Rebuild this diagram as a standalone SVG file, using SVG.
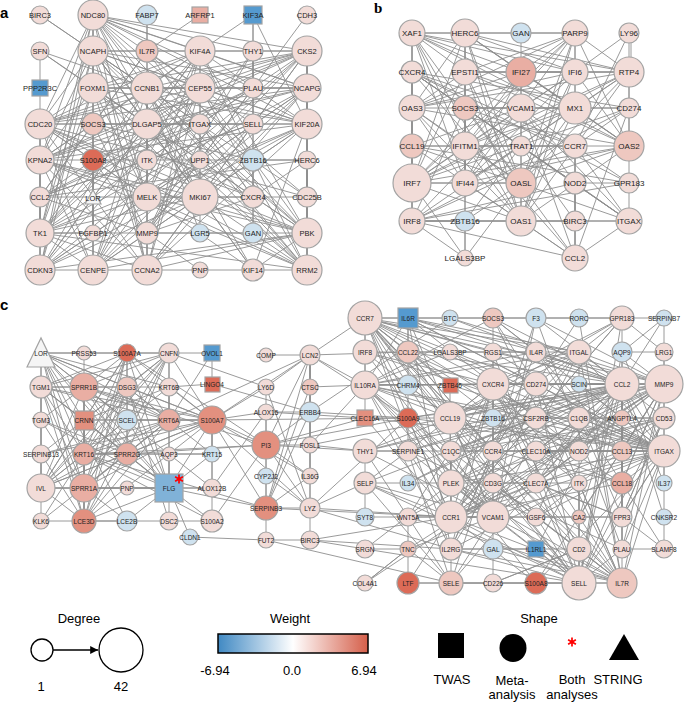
<svg xmlns="http://www.w3.org/2000/svg" width="685" height="702" viewBox="0 0 685 702">
<style>
.e{fill:none;stroke:#8e8e8e;stroke-width:0.9}
.nodes circle,.nodes rect,.nodes polygon{stroke:#a3a3a3;stroke-width:1.2}
.p0{fill:#f2dcd8}.p1{fill:#eec8c0}.p2{fill:#e9aea3}.p3{fill:#e3907f}.p4{fill:#dc6b57}
.b0{fill:#cfe2ef}.b1{fill:#559acf}.b2{fill:#80b2d8}.w{fill:#f5f5f5}
text{font-family:"Liberation Sans",Arial,sans-serif;fill:#222;text-anchor:middle;dominant-baseline:central}
.ta text{font-size:7.5px}.tb text{font-size:8px}.tc text{font-size:6.5px}
.lg text{font-size:13px;fill:#000}
.ast{fill:none;stroke:#f00;stroke-width:1.7}
.pl{font-weight:bold;font-size:15px;text-anchor:start;fill:#000}
</style>
<defs>
<marker id="ah" viewBox="0 0 10 10" refX="10" refY="5" markerWidth="6" markerHeight="6" orient="auto"><path d="M0 0L10 5L0 10z" fill="#000"/></marker>
<linearGradient id="wg" x1="0" x2="1" y1="0" y2="0"><stop offset="0" stop-color="#4089c3"/><stop offset="0.5" stop-color="#ffffff"/><stop offset="1" stop-color="#d55f4a"/></linearGradient>
<path id="ast" d="M0 -4.5V4.5M-3.9 -2.25L3.9 2.25M-3.9 2.25L3.9 -2.25"/>
</defs>
<rect width="685" height="702" fill="#fff"/>
<text class="pl" x="0" y="12">a</text>
<text class="pl" x="374" y="8" style="font-family:'Liberation Serif',serif">b</text>
<text class="pl" x="0" y="304">c</text>
<g id="connectors">
<path class="e" d="M93 15L93 51M93 15L200 51M93 15L307 51M93 15L93 88M93 15L147 88M93 15L200 88M93 15L307 88M93 15L40 124M93 15L147 124M93 15L307 124M93 15L40 160M93 15L147 197M93 15L200 197M93 15L40 233M93 15L307 233M93 15L40 270M93 15L93 270M93 15L147 270M93 15L307 270
M93 51L200 51M93 51L307 51M93 51L93 88M93 51L147 88M93 51L200 88M93 51L307 88M93 51L40 124M93 51L147 124M93 51L307 124M93 51L40 160M93 51L147 197M93 51L200 197M93 51L40 233M93 51L307 233M93 51L40 270M93 51L93 270M93 51L147 270M93 51L307 270
M200 51L307 51M200 51L93 88M200 51L147 88M200 51L200 88M200 51L307 88M200 51L40 124M200 51L147 124M200 51L307 124M200 51L40 160M200 51L147 197M200 51L200 197M200 51L40 233M200 51L307 233M200 51L40 270M200 51L93 270M200 51L147 270M200 51L307 270
M307 51L93 88M307 51L147 88M307 51L200 88M307 51L307 88M307 51L40 124M307 51L147 124M307 51L307 124M307 51L40 160M307 51L147 197M307 51L200 197M307 51L40 233M307 51L307 233M307 51L40 270M307 51L93 270M307 51L147 270M307 51L307 270
M93 88L147 88M93 88L200 88M93 88L307 88M93 88L40 124M93 88L147 124M93 88L307 124M93 88L40 160M93 88L147 197M93 88L200 197M93 88L40 233M93 88L307 233M93 88L40 270M93 88L93 270M93 88L147 270M93 88L307 270
M147 88L200 88M147 88L307 88M147 88L40 124M147 88L147 124M147 88L307 124M147 88L40 160M147 88L147 197M147 88L200 197M147 88L40 233M147 88L307 233M147 88L40 270M147 88L93 270M147 88L147 270M147 88L307 270
M200 88L307 88M200 88L40 124M200 88L147 124M200 88L307 124M200 88L40 160M200 88L147 197M200 88L200 197M200 88L40 233M200 88L307 233M200 88L40 270M200 88L93 270M200 88L147 270M200 88L307 270
M307 88L40 124M307 88L147 124M307 88L307 124M307 88L40 160M307 88L147 197M307 88L200 197M307 88L40 233M307 88L307 233M307 88L40 270M307 88L93 270M307 88L147 270M307 88L307 270
M40 124L147 124M40 124L307 124M40 124L40 160M40 124L147 197M40 124L200 197M40 124L40 233M40 124L307 233M40 124L40 270M40 124L93 270M40 124L147 270M40 124L307 270
M147 124L307 124M147 124L40 160M147 124L147 197M147 124L200 197M147 124L40 233M147 124L307 233M147 124L40 270M147 124L93 270M147 124L147 270M147 124L307 270
M307 124L40 160M307 124L147 197M307 124L200 197M307 124L40 233M307 124L307 233M307 124L40 270M307 124L93 270M307 124L147 270M307 124L307 270
M40 160L147 197M40 160L200 197M40 160L40 233M40 160L307 233M40 160L40 270M40 160L93 270M40 160L147 270M40 160L307 270
M147 197L200 197M147 197L40 233M147 197L307 233M147 197L40 270M147 197L93 270M147 197L147 270M147 197L307 270
M200 197L40 233M200 197L307 233M200 197L40 270M200 197L93 270M200 197L147 270M200 197L307 270
M40 233L307 233M40 233L40 270M40 233L93 270M40 233L147 270M40 233L307 270M307 233L40 270M307 233L93 270M307 233L147 270M307 233L307 270M40 270L307 270
M40 15L147 88M40 15L200 124M147 15L147 51M147 15L147 124M200 15L147 51M253 15L200 51M253 15L253 51M253 15L307 124M253 15L253 124M307 15L253 88
M40 51L40 88M40 51L147 88M40 51L147 124M40 51L93 88M40 88L40 124M93 15L253 51M93 15L253 88
M147 51L147 160M147 51L253 124M147 51L40 197M147 51L253 197M147 51L93 124
M253 51L253 88M253 51L200 124M253 51L253 124M253 51L253 197M253 51L147 233
M253 88L147 233M253 88L200 124M253 88L40 197M253 88L93 160M253 88L200 160
M93 124L40 197M93 124L253 197M93 124L147 233M93 124L93 160M93 124L200 124M93 124L253 160
M200 124L253 124M200 124L40 197M200 124L147 233M200 124L93 160M200 124L147 160M200 124L253 197
M253 124L253 197M253 124L147 160M253 124L40 197M253 124L147 233
M93 160L147 233M93 160L40 197M93 160L93 197M93 160L93 233M147 160L253 197M147 160L40 197
M200 160L147 233M200 160L40 160M200 160L307 160M253 160L253 233M253 160L307 160M253 160L147 51
M307 160L253 197M307 160L40 197M40 197L40 233M40 197L253 197M40 197L147 233M93 197L93 233
M147 233L253 197M147 233L253 233M200 233L200 197M200 233L147 88M253 233L253 197
M253 270L200 197M253 270L307 124M253 270L147 88M253 270L307 233M253 270L93 51M253 270L40 124
M307 197L307 51M307 197L307 233M307 197L147 88M307 197L200 197M307 197L40 124M307 197L93 15M200 270L147 233M93 233L40 233M93 233L93 197"/>
<path class="e" d="M412 33L465 33M412 33L575 33M412 33L465 72M412 33L521 72M412 33L575 72M412 33L629 72M412 33L412 108M412 33L575 108M412 33L465 146M412 33L629 146M412 33L412 183M412 33L465 183M412 33L521 183M412 33L521 221
M465 33L575 33M465 33L465 72M465 33L521 72M465 33L575 72M465 33L629 72M465 33L412 108M465 33L575 108M465 33L465 146M465 33L629 146M465 33L412 183M465 33L465 183M465 33L521 183M465 33L521 221
M575 33L465 72M575 33L521 72M575 33L575 72M575 33L629 72M575 33L412 108M575 33L575 108M575 33L465 146M575 33L629 146M575 33L412 183M575 33L465 183M575 33L521 183M575 33L521 221
M465 72L521 72M465 72L575 72M465 72L629 72M465 72L412 108M465 72L575 108M465 72L465 146M465 72L629 146M465 72L412 183M465 72L465 183M465 72L521 183M465 72L521 221
M521 72L575 72M521 72L629 72M521 72L412 108M521 72L575 108M521 72L465 146M521 72L629 146M521 72L412 183M521 72L465 183M521 72L521 183M521 72L521 221
M575 72L629 72M575 72L412 108M575 72L575 108M575 72L465 146M575 72L629 146M575 72L412 183M575 72L465 183M575 72L521 183M575 72L521 221
M629 72L412 108M629 72L575 108M629 72L465 146M629 72L629 146M629 72L412 183M629 72L465 183M629 72L521 183M629 72L521 221
M412 108L575 108M412 108L465 146M412 108L629 146M412 108L412 183M412 108L465 183M412 108L521 183M412 108L521 221
M575 108L465 146M575 108L629 146M575 108L412 183M575 108L465 183M575 108L521 183M575 108L521 221
M465 146L629 146M465 146L412 183M465 146L465 183M465 146L521 183M465 146L521 221
M629 146L412 183M629 146L465 183M629 146L521 183M629 146L521 221M412 183L465 183M412 183L521 183M412 183L521 221M465 183L521 183M465 183L521 221M521 183L521 221
M629 33L629 72M631 33L631 72M629 33L575 72M629 33L575 146M412 33L412 72M412 72L412 108M521 33L521 72
M412 72L412 146M412 72L575 146M412 72L465 108M412 72L521 108M412 72L575 258M412 72L629 221M412 72L412 221M412 72L521 146M412 72L629 183M412 72L575 183M412 72L629 108
M465 108L575 258M465 108L521 108M465 108L629 108M465 108L412 221M465 108L575 146M465 108L575 183M465 108L465 221M465 108L629 221
M521 108L575 258M521 108L629 221M521 108L412 146M521 108L629 108M521 108L575 146M521 108L412 221M521 108L575 183
M629 108L629 72M629 108L629 146M629 108L412 183M629 108L575 258M629 108L412 221M629 108L575 146
M412 146L575 146M412 146L412 183M412 146L629 183M412 146L575 258M412 146L629 221M412 146L521 146M412 146L412 108M412 146L412 221
M521 146L575 146M521 146L629 221M521 146L412 221M521 146L465 221M521 146L575 221
M575 146L629 183M575 146L412 221M575 146L629 221M575 146L575 183M575 146L575 221M575 146L575 258
M575 183L575 221M575 183L575 258M575 183L412 221M575 183L629 221M575 183L629 183M629 183L629 146M629 183L629 221M629 183L412 221
M412 221L412 183M412 221L465 221M412 221L521 221M412 221L465 258M412 221L575 258M412 221L629 221M412 221L575 221
M465 221L465 258M465 221L521 183M575 221L575 258M575 221L521 221M575 221L629 221M629 221L575 258M521 221L575 258M465 258L521 183M465 258L465 146M465 258L412 183"/>
<path class="e" d="M41 353L41 387M41 353L84 387M41 353L84 420M41 353L84 454M41 353L41 488M41 353L84 488M41 353L84 521M41 353L127 454M41 353L127 353M41 353L127 387M41 353L169 353M41 353L169 420M41 353L169 488M41 353L212 420
M41 387L84 387M41 387L84 420M41 387L84 454M41 387L41 488M41 387L84 488M41 387L84 521M41 387L127 454M41 387L127 353M41 387L127 387M41 387L169 353M41 387L169 420M41 387L169 488M41 387L212 420
M84 387L84 420M84 387L84 454M84 387L41 488M84 387L84 488M84 387L84 521M84 387L127 454M84 387L127 353M84 387L127 387M84 387L169 353M84 387L169 420M84 387L169 488M84 387L212 420
M84 420L84 454M84 420L41 488M84 420L84 488M84 420L84 521M84 420L127 454M84 420L127 353M84 420L127 387M84 420L169 353M84 420L169 420M84 420L169 488M84 420L212 420
M84 454L41 488M84 454L84 488M84 454L84 521M84 454L127 454M84 454L127 353M84 454L127 387M84 454L169 353M84 454L169 420M84 454L169 488M84 454L212 420
M41 488L84 488M41 488L84 521M41 488L127 454M41 488L127 353M41 488L127 387M41 488L169 353M41 488L169 420M41 488L169 488M41 488L212 420
M84 488L84 521M84 488L127 454M84 488L127 353M84 488L127 387M84 488L169 353M84 488L169 420M84 488L169 488M84 488L212 420
M84 521L127 454M84 521L127 353M84 521L127 387M84 521L169 353M84 521L169 420M84 521L169 488M84 521L212 420
M127 454L127 353M127 454L127 387M127 454L169 353M127 454L169 420M127 454L169 488M127 454L212 420
M127 353L127 387M127 353L169 353M127 353L169 420M127 353L169 488M127 353L212 420M127 387L169 353M127 387L169 420M127 387L169 488M127 387L212 420
M169 353L169 420M169 353L169 488M169 353L212 420M169 420L169 488M169 420L212 420M169 488L212 420
M84 353L84 387M212 353L169 353M212 353L212 384M212 353L169 420M212 384L310 412M212 384L169 387
M41 420L41 387M41 420L41 454M41 420L84 387M41 420L84 488M41 420L127 454M41 420L169 488
M41 454L41 488M41 454L84 420M41 454L169 420M41 454L212 420M41 454L84 521M41 521L41 488M41 521L84 521M41 521L84 454M41 521L169 420
M127 420L41 353M127 420L84 488M127 420L41 488M127 420L169 488M127 420L84 387M127 420L212 420
M169 387L169 420M169 387L84 454M169 387L127 387M169 387L212 420M169 387L41 353M169 387L84 420
M169 454L169 488M169 454L212 454M169 454L84 454M212 454L84 454M212 454L212 420M212 454L169 488M212 454L127 387
M127 488L84 488M127 488L169 488M212 488L169 488M212 488L212 420M212 488L41 488M212 488L84 387M212 488L266 412
M127 521L84 521M127 521L169 488M127 521L84 488M127 521L41 353M169 521L169 488M169 521L127 387M169 521L84 521M169 521L212 521
M212 521L212 420M212 521L169 488M212 521L84 454M212 521L266 445M190 537L169 488M190 537L266 540
M212 420L266 445M212 420L310 355M212 420L266 508M212 420L266 387M212 420L310 508M212 420L408 418M212 420L266 412M212 420L310 476
M84 454L266 445M84 454L266 508M84 387L266 445M169 420L310 355M127 353L266 445M169 488L266 508M169 353L266 387M127 454L266 445
M266 355L310 355M310 355L310 387M310 355L266 387M310 355L310 412M310 355L266 445M310 355L310 445M310 355L310 508M310 355L408 352M310 355L365 385M310 355L365 318M310 355L408 418M310 355L310 476M310 355L266 508
M266 387L266 445M266 387L310 508M310 387L310 412M310 387L365 385M310 387L266 508M266 412L310 412M266 412L266 445M266 412L365 418
M310 412L266 445M310 412L310 445M310 412L408 418M310 412L450 318M310 412L266 508
M266 445L266 508M266 445L310 445M266 445L310 508M266 445L266 476M266 445L408 418M266 445L365 451M266 445L310 476M266 445L365 418
M310 445L310 476M310 445L365 451M310 445L622 384M310 445L365 385M266 476L266 508M266 476L310 508M310 476L310 508M310 476L266 508
M266 508L310 508M266 508L266 540M266 508L451 517M310 508L310 540M310 508L451 517M310 508L365 483M310 508L451 549M310 508L408 418
M266 540L451 583M266 540L310 540M310 540L451 549M310 540L451 517M310 540L365 549"/>
<path class="e" d="M365 318L365 385M365 318L450 418M365 318L493 384M365 318L622 384M365 318L664 384M365 318L664 451M365 318L451 517M365 318L493 517M365 318L579 583M365 318L622 583M365 318L451 483M365 318L579 352M365 318L536 384
M365 385L450 418M365 385L493 384M365 385L622 384M365 385L664 384M365 385L664 451M365 385L451 517M365 385L493 517M365 385L579 583M365 385L622 583M365 385L451 483M365 385L579 352M365 385L536 384
M450 418L493 384M450 418L622 384M450 418L664 384M450 418L664 451M450 418L451 517M450 418L493 517M450 418L579 583M450 418L622 583M450 418L451 483M450 418L579 352M450 418L536 384
M493 384L622 384M493 384L664 384M493 384L664 451M493 384L451 517M493 384L493 517M493 384L579 583M493 384L622 583M493 384L451 483M493 384L579 352M493 384L536 384
M622 384L664 384M622 384L664 451M622 384L451 517M622 384L493 517M622 384L579 583M622 384L622 583M622 384L451 483M622 384L579 352M622 384L536 384
M664 384L664 451M664 384L451 517M664 384L493 517M664 384L579 583M664 384L622 583M664 384L451 483M664 384L579 352M664 384L536 384
M664 451L451 517M664 451L493 517M664 451L579 583M664 451L622 583M664 451L451 483M664 451L579 352M664 451L536 384
M451 517L493 517M451 517L579 583M451 517L622 583M451 517L451 483M451 517L579 352M451 517L536 384
M493 517L579 583M493 517L622 583M493 517L451 483M493 517L579 352M493 517L536 384M579 583L622 583M579 583L451 483M579 583L579 352M579 583L536 384
M622 583L451 483M622 583L579 352M622 583L536 384M451 483L579 352M451 483L536 384M579 352L536 384
M408 318L365 318M408 318L408 352M408 318L493 318M408 318L493 384M408 318L622 384M408 318L365 385M408 318L451 549M408 318L493 517M408 318L664 384M408 318L664 451M408 318L536 384M408 318L579 352
M450 318L664 384M450 318L622 384M493 318L536 318M493 318L493 384M493 318L622 384M493 318L536 352M493 318L365 385M493 318L536 384M493 318L622 583M493 318L664 451
M536 318L579 318M536 318L622 384M536 318L664 384M536 318L493 517M536 318L451 583M536 318L622 549M579 318L622 318M579 318L493 451M579 318L622 583
M622 318L664 318M622 318L365 318M622 318L450 418M622 318L622 352M622 318L579 352M622 318L493 384M622 318L579 583M622 318L451 517M622 318L664 352M622 318L536 418
M664 318L664 352M664 318L622 352M664 318L622 384
M365 352L365 318M365 352L365 385M365 352L408 352M365 352L493 384M365 352L450 418M365 352L664 451M365 352L493 517
M408 352L450 352M408 352L493 451M408 352L450 418M408 352L536 352M408 352L622 384M408 352L622 451M408 352L622 483M408 352L365 318
M450 352L493 352M450 352L664 451M450 352L365 385M493 352L536 352M493 352L365 318M493 352L493 384M493 352L622 384M493 352L579 583M493 352L664 451
M536 352L579 352M536 352L451 549M536 352L622 451M536 352L622 483M536 352L365 385M536 352L622 384
M622 352L664 352M622 352L664 384M622 352L622 384M622 352L664 451M622 352L622 517M622 352L579 583M664 352L664 384M664 352L664 418
M408 385L450 418M408 385L493 384M450 385L365 318M450 385L664 451M450 385L450 418M579 384L622 384M579 384L664 451
M365 418L365 385M365 418L450 418M365 418L664 451M365 418L451 517
M408 418L664 384M408 418L664 451M408 418L536 583M408 418L622 384M408 418L451 517M408 418L579 583
M493 418L493 384M493 418L622 583M493 418L493 549
M536 418L365 385M536 418L451 517M536 418L664 451M536 418L664 418M536 418L493 384M536 418L622 384M536 418L579 418M536 418L451 451
M579 418L451 451M579 418L664 418M579 418L664 451M579 418L622 384M579 418L664 384M579 418L622 517M579 418L451 517M579 418L536 517M579 418L536 483M579 418L536 451
M622 418L664 384M622 418L622 384M622 418L493 517M622 418L622 549
M664 418L664 451M664 418L451 517M664 418L622 384M664 418L451 483M664 418L579 583M664 418L622 517
M365 451L450 418M365 451L493 517M365 451L664 451M365 451L365 483M365 451L664 384M365 451L622 384M365 451L451 583
M408 451L622 384M408 451L664 384M408 451L493 517M408 451L451 583M408 451L365 483M408 451L622 549M408 451L493 384M408 451L365 451M408 451L408 318
M451 451L451 517M451 451L664 418M451 451L451 483M451 451L664 451M451 451L536 418M451 451L622 517
M493 451L365 318M493 451L408 352M493 451L450 418M493 451L622 384M493 451L622 451M493 451L622 483M493 451L493 384M493 451L451 549M493 451L493 483M493 451L579 583
M536 451L622 483M536 451L664 418M536 451L536 483M536 451L664 451M536 451L622 451
M579 451L622 384M579 451L664 451M579 451L365 318M579 451L365 385M579 451L493 384M579 451L536 483
M622 451L622 384M622 451L622 483M622 451L451 517M622 451L664 384
M365 483L451 583M365 483L579 583M365 483L451 483M365 483L451 517M365 483L493 517M365 483L622 384M408 483L536 418M408 483L622 384
M493 483L579 549M493 483L365 318M493 483L579 483M493 483L451 549M493 483L579 583M493 483L622 583M493 483L493 384
M536 483L664 451M536 483L451 517M536 483L451 483M536 483L622 384M536 483L622 517
M579 483L579 549M579 483L622 583M579 483L579 583M579 483L365 318M579 483L493 384M579 483L451 549
M622 483L622 384M622 483L451 517M622 483L664 384M622 483L664 451M664 483L664 451M664 483L622 384
M365 517L451 517M365 517L365 483M408 517L664 384M408 517L493 517M408 517L493 384M408 517L408 549M408 517L622 583
M536 517L451 517M536 517L664 451M536 517L664 418M536 517L451 483M536 517L622 517M579 517L622 384M579 517L664 384
M622 517L451 517M622 517L664 451M622 517L622 384M622 517L664 549M622 517L664 418M664 517L622 384
M365 549L451 483M365 549L579 583M365 549L408 549M408 549L408 583M408 549L664 384M408 549L493 517M408 549L365 583M408 549L451 583
M451 549L579 549M451 549L622 583M451 549L365 385M451 549L365 318M451 549L493 384M451 549L579 583M451 549L451 583
M493 549L493 583M493 549L622 583M536 549L451 549M536 549L622 384
M579 549L622 583M579 549L579 583M579 549L365 318M579 549L493 583M579 549L493 384
M622 549L664 549M622 549L664 384M622 549L664 451M622 549L622 384M622 549L579 583M664 549L664 451M664 549L622 483
M365 583L408 549M365 583L664 384M408 583L451 583M408 583L536 583M408 583L451 517
M451 583L622 583M451 583L493 517M451 583L622 384M451 583L579 583M493 583L579 549
M536 583L664 451M536 583L664 384M536 583L451 517M536 583L579 583"/>
</g>
<g class="nodes ta">
<g id="a-BIRC3"><circle cx="40" cy="15" r="9" class="p0"/><text x="40" y="15">BIRC3</text></g>
<g id="a-NDC80"><circle cx="93" cy="15" r="15" class="p0"/><text x="93" y="15">NDC80</text></g>
<g id="a-FABP7"><circle cx="147" cy="15" r="10" class="b0"/><text x="147" y="15">FABP7</text></g>
<g id="a-ARFRP1"><rect x="192" y="7" width="16" height="16" class="p2"/><text x="200" y="15">ARFRP1</text></g>
<g id="a-KIF3A"><rect x="244" y="6" width="18" height="18" class="b1"/><text x="253" y="15">KIF3A</text></g>
<g id="a-CDH3"><circle cx="307" cy="15" r="9" class="p0"/><text x="307" y="15">CDH3</text></g>
<g id="a-SFN"><circle cx="40" cy="51" r="9" class="p0"/><text x="40" y="51">SFN</text></g>
<g id="a-NCAPH"><circle cx="93" cy="51" r="15" class="p0"/><text x="93" y="51">NCAPH</text></g>
<g id="a-IL7R"><circle cx="147" cy="51" r="11" class="p1"/><text x="147" y="51">IL7R</text></g>
<g id="a-KIF4A"><circle cx="200" cy="51" r="15" class="p0"/><text x="200" y="51">KIF4A</text></g>
<g id="a-THY1"><circle cx="253" cy="51" r="10" class="p0"/><text x="253" y="51">THY1</text></g>
<g id="a-CKS2"><circle cx="307" cy="51" r="15" class="p0"/><text x="307" y="51">CKS2</text></g>
<g id="a-PPP2R3C"><rect x="32" y="80" width="16" height="16" class="b1"/><text x="40" y="88">PPP2R3C</text></g>
<g id="a-FOXM1"><circle cx="93" cy="88" r="15" class="p0"/><text x="93" y="88">FOXM1</text></g>
<g id="a-CCNB1"><circle cx="147" cy="88" r="16" class="p0"/><text x="147" y="88">CCNB1</text></g>
<g id="a-CEP55"><circle cx="200" cy="88" r="15" class="p0"/><text x="200" y="88">CEP55</text></g>
<g id="a-PLAU"><circle cx="253" cy="88" r="10" class="p0"/><text x="253" y="88">PLAU</text></g>
<g id="a-NCAPG"><circle cx="307" cy="88" r="14" class="p0"/><text x="307" y="88">NCAPG</text></g>
<g id="a-CDC20"><circle cx="40" cy="124" r="15" class="p0"/><text x="40" y="124">CDC20</text></g>
<g id="a-SOCS3"><circle cx="93" cy="124" r="11" class="p1"/><text x="93" y="124">SOCS3</text></g>
<g id="a-DLGAP5"><circle cx="147" cy="124" r="15" class="p0"/><text x="147" y="124">DLGAP5</text></g>
<g id="a-ITGAX"><circle cx="200" cy="124" r="10" class="p0"/><text x="200" y="124">ITGAX</text></g>
<g id="a-SELL"><circle cx="253" cy="124" r="10" class="p0"/><text x="253" y="124">SELL</text></g>
<g id="a-KIF20A"><circle cx="307" cy="124" r="15" class="p0"/><text x="307" y="124">KIF20A</text></g>
<g id="a-KPNA2"><circle cx="40" cy="160" r="14" class="p0"/><text x="40" y="160">KPNA2</text></g>
<g id="a-S100A8"><circle cx="93" cy="160" r="11" class="p4"/><text x="93" y="160">S100A8</text></g>
<g id="a-ITK"><circle cx="147" cy="160" r="10" class="p0"/><text x="147" y="160">ITK</text></g>
<g id="a-UPP1"><circle cx="200" cy="160" r="9" class="p0"/><text x="200" y="160">UPP1</text></g>
<g id="a-ZBTB16"><circle cx="253" cy="160" r="11" class="b0"/><text x="253" y="160">ZBTB16</text></g>
<g id="a-HERC6"><circle cx="307" cy="160" r="9" class="p0"/><text x="307" y="160">HERC6</text></g>
<g id="a-CCL2"><circle cx="40" cy="197" r="10" class="p0"/><text x="40" y="197">CCL2</text></g>
<g id="a-LOR"><polygon points="85,204 93,190 101,204" class="w"/><text x="93" y="198">LOR</text></g>
<g id="a-MELK"><circle cx="147" cy="197" r="14" class="p0"/><text x="147" y="197">MELK</text></g>
<g id="a-MKI67"><circle cx="200" cy="197" r="18" class="p0"/><text x="200" y="197">MKI67</text></g>
<g id="a-CXCR4"><circle cx="253" cy="197" r="11" class="p0"/><text x="253" y="197">CXCR4</text></g>
<g id="a-CDC25B"><circle cx="307" cy="197" r="10" class="p0"/><text x="307" y="197">CDC25B</text></g>
<g id="a-TK1"><circle cx="40" cy="233" r="14" class="p0"/><text x="40" y="233">TK1</text></g>
<g id="a-FGFBP1"><circle cx="93" cy="233" r="8" class="p0"/><text x="93" y="233">FGFBP1</text></g>
<g id="a-MMP9"><circle cx="147" cy="233" r="11" class="p0"/><text x="147" y="233">MMP9</text></g>
<g id="a-LGR5"><circle cx="200" cy="233" r="9" class="b0"/><text x="200" y="233">LGR5</text></g>
<g id="a-GAN"><circle cx="253" cy="233" r="10" class="b0"/><text x="253" y="233">GAN</text></g>
<g id="a-PBK"><circle cx="307" cy="233" r="15" class="p0"/><text x="307" y="233">PBK</text></g>
<g id="a-CDKN3"><circle cx="40" cy="270" r="15" class="p0"/><text x="40" y="270">CDKN3</text></g>
<g id="a-CENPE"><circle cx="93" cy="270" r="15" class="p0"/><text x="93" y="270">CENPE</text></g>
<g id="a-CCNA2"><circle cx="147" cy="270" r="15" class="p0"/><text x="147" y="270">CCNA2</text></g>
<g id="a-PNP"><circle cx="200" cy="270" r="8" class="p0"/><text x="200" y="270">PNP</text></g>
<g id="a-KIF14"><circle cx="253" cy="270" r="11" class="p0"/><text x="253" y="270">KIF14</text></g>
<g id="a-RRM2"><circle cx="307" cy="270" r="15" class="p0"/><text x="307" y="270">RRM2</text></g>
</g>
<g class="nodes tb">
<g id="b-XAF1"><circle cx="412" cy="33" r="13" class="p0"/><text x="412" y="33">XAF1</text></g>
<g id="b-HERC6"><circle cx="465" cy="33" r="14" class="p0"/><text x="465" y="33">HERC6</text></g>
<g id="b-GAN"><circle cx="521" cy="33" r="10" class="b0"/><text x="521" y="33">GAN</text></g>
<g id="b-PARP9"><circle cx="575" cy="33" r="13" class="p0"/><text x="575" y="33">PARP9</text></g>
<g id="b-LY96"><circle cx="629" cy="33" r="10" class="p0"/><text x="629" y="33">LY96</text></g>
<g id="b-CXCR4"><circle cx="412" cy="72" r="11" class="p0"/><text x="412" y="72">CXCR4</text></g>
<g id="b-EPSTI1"><circle cx="465" cy="72" r="13" class="p0"/><text x="465" y="72">EPSTI1</text></g>
<g id="b-IFI27"><circle cx="521" cy="72" r="15" class="p2"/><text x="521" y="72">IFI27</text></g>
<g id="b-IFI6"><circle cx="575" cy="72" r="13" class="p0"/><text x="575" y="72">IFI6</text></g>
<g id="b-RTP4"><circle cx="629" cy="72" r="15" class="p0"/><text x="629" y="72">RTP4</text></g>
<g id="b-OAS3"><circle cx="412" cy="108" r="13" class="p0"/><text x="412" y="108">OAS3</text></g>
<g id="b-SOCS3"><circle cx="465" cy="108" r="12" class="p1"/><text x="465" y="108">SOCS3</text></g>
<g id="b-VCAM1"><circle cx="521" cy="108" r="14" class="p0"/><text x="521" y="108">VCAM1</text></g>
<g id="b-MX1"><circle cx="575" cy="108" r="16" class="p0"/><text x="575" y="108">MX1</text></g>
<g id="b-CD274"><circle cx="629" cy="108" r="10" class="p0"/><text x="629" y="108">CD274</text></g>
<g id="b-CCL19"><circle cx="412" cy="146" r="12" class="p1"/><text x="412" y="146">CCL19</text></g>
<g id="b-IFITM1"><circle cx="465" cy="146" r="14" class="p0"/><text x="465" y="146">IFITM1</text></g>
<g id="b-TRAT1"><circle cx="521" cy="146" r="10" class="p0"/><text x="521" y="146">TRAT1</text></g>
<g id="b-CCR7"><circle cx="575" cy="146" r="12" class="p0"/><text x="575" y="146">CCR7</text></g>
<g id="b-OAS2"><circle cx="629" cy="146" r="15" class="p1"/><text x="629" y="146">OAS2</text></g>
<g id="b-IRF7"><circle cx="412" cy="183" r="19" class="p0"/><text x="412" y="183">IRF7</text></g>
<g id="b-IFI44"><circle cx="465" cy="183" r="13" class="p0"/><text x="465" y="183">IFI44</text></g>
<g id="b-OASL"><circle cx="521" cy="183" r="15" class="p1"/><text x="521" y="183">OASL</text></g>
<g id="b-NOD2"><circle cx="575" cy="183" r="11" class="p0"/><text x="575" y="183">NOD2</text></g>
<g id="b-GPR183"><circle cx="629" cy="183" r="10" class="p0"/><text x="629" y="183">GPR183</text></g>
<g id="b-IRF8"><circle cx="412" cy="221" r="13" class="p0"/><text x="412" y="221">IRF8</text></g>
<g id="b-ZBTB16"><circle cx="465" cy="221" r="10" class="b0"/><text x="465" y="221">ZBTB16</text></g>
<g id="b-OAS1"><circle cx="521" cy="221" r="15" class="p0"/><text x="521" y="221">OAS1</text></g>
<g id="b-BIRC3"><circle cx="575" cy="221" r="10" class="p0"/><text x="575" y="221">BIRC3</text></g>
<g id="b-ITGAX"><circle cx="629" cy="221" r="13" class="p0"/><text x="629" y="221">ITGAX</text></g>
<g id="b-LGALS3BP"><circle cx="465" cy="258" r="8" class="p0"/><text x="465" y="258">LGALS3BP</text></g>
<g id="b-CCL2"><circle cx="575" cy="258" r="13" class="p0"/><text x="575" y="258">CCL2</text></g>
</g>
<g class="nodes tc">
<g id="c-LOR"><polygon points="27,367 41,338 55,367" class="w"/><text x="41" y="353">LOR</text></g>
<g id="c-PRSS53"><circle cx="84" cy="353" r="7" class="p0"/><text x="84" y="353">PRSS53</text></g>
<g id="c-S100A7A"><circle cx="127" cy="353" r="9" class="p4"/><text x="127" y="353">S100A7A</text></g>
<g id="c-CNFN"><circle cx="169" cy="353" r="10" class="p0"/><text x="169" y="353">CNFN</text></g>
<g id="c-OVOL1"><rect x="204" y="345" width="16" height="16" class="b1"/><text x="212" y="353">OVOL1</text></g>
<g id="c-TGM1"><circle cx="41" cy="387" r="11" class="p0"/><text x="41" y="387">TGM1</text></g>
<g id="c-SPRR1B"><circle cx="84" cy="387" r="14" class="p2"/><text x="84" y="387">SPRR1B</text></g>
<g id="c-DSG3"><circle cx="127" cy="387" r="10" class="p1"/><text x="127" y="387">DSG3</text></g>
<g id="c-KRT6B"><circle cx="169" cy="387" r="9" class="p0"/><text x="169" y="387">KRT6B</text></g>
<g id="c-LINGO4"><rect x="205" y="377" width="15" height="15" class="p4"/><text x="212" y="384">LINGO4</text></g>
<g id="c-TGM3"><circle cx="41" cy="420" r="8" class="p0"/><text x="41" y="420">TGM3</text></g>
<g id="c-CRNN"><rect x="75" y="411" width="19" height="19" class="p3"/><text x="84" y="420">CRNN</text></g>
<g id="c-SCEL"><circle cx="127" cy="420" r="10" class="b0"/><text x="127" y="420">SCEL</text></g>
<g id="c-KRT6A"><circle cx="169" cy="420" r="11" class="p2"/><text x="169" y="420">KRT6A</text></g>
<g id="c-S100A7"><circle cx="212" cy="420" r="14" class="p3"/><text x="212" y="420">S100A7</text></g>
<g id="c-SERPINB13"><circle cx="41" cy="454" r="9" class="p0"/><text x="41" y="454">SERPINB13</text></g>
<g id="c-KRT16"><circle cx="84" cy="454" r="11" class="p2"/><text x="84" y="454">KRT16</text></g>
<g id="c-SPRR2G"><circle cx="127" cy="454" r="11" class="p2"/><text x="127" y="454">SPRR2G</text></g>
<g id="c-AQP3"><circle cx="169" cy="454" r="7" class="p0"/><text x="169" y="454">AQP3</text></g>
<g id="c-KRT15"><circle cx="212" cy="454" r="8" class="b0"/><text x="212" y="454">KRT15</text></g>
<g id="c-IVL"><circle cx="41" cy="488" r="14" class="p0"/><text x="41" y="488">IVL</text></g>
<g id="c-SPRR1A"><circle cx="84" cy="488" r="14" class="p2"/><text x="84" y="488">SPRR1A</text></g>
<g id="c-PNP"><circle cx="127" cy="488" r="7" class="p0"/><text x="127" y="488">PNP</text></g>
<g id="c-FLG"><rect x="155" y="474" width="28" height="28" class="b2"/><text x="169" y="488">FLG</text><use href="#ast" x="179" y="479" class="ast"/></g>
<g id="c-ALOX12B"><circle cx="212" cy="488" r="9" class="p0"/><text x="212" y="488">ALOX12B</text></g>
<g id="c-KLK6"><circle cx="41" cy="521" r="8" class="p0"/><text x="41" y="521">KLK6</text></g>
<g id="c-LCE3D"><circle cx="84" cy="521" r="12" class="p3"/><text x="84" y="521">LCE3D</text></g>
<g id="c-LCE2B"><circle cx="127" cy="521" r="10" class="b0"/><text x="127" y="521">LCE2B</text></g>
<g id="c-DSC2"><circle cx="169" cy="521" r="9" class="p0"/><text x="169" y="521">DSC2</text></g>
<g id="c-S100A2"><circle cx="212" cy="521" r="11" class="p0"/><text x="212" y="521">S100A2</text></g>
<g id="c-CLDN1"><circle cx="190" cy="537" r="8" class="b0"/><text x="190" y="537">CLDN1</text></g>
<g id="c-COMP"><circle cx="266" cy="355" r="7" class="p0"/><text x="266" y="355">COMP</text></g>
<g id="c-LCN2"><circle cx="310" cy="355" r="10" class="p0"/><text x="310" y="355">LCN2</text></g>
<g id="c-LY6D"><circle cx="266" cy="387" r="8" class="p0"/><text x="266" y="387">LY6D</text></g>
<g id="c-CTSC"><circle cx="310" cy="387" r="8" class="p1"/><text x="310" y="387">CTSC</text></g>
<g id="c-ALOX15"><circle cx="266" cy="412" r="8" class="p0"/><text x="266" y="412">ALOX15</text></g>
<g id="c-ERBB4"><circle cx="310" cy="412" r="10" class="b0"/><text x="310" y="412">ERBB4</text></g>
<g id="c-PI3"><circle cx="266" cy="445" r="14" class="p3"/><text x="266" y="445">PI3</text></g>
<g id="c-FOSL1"><circle cx="310" cy="445" r="8" class="p0"/><text x="310" y="445">FOSL1</text></g>
<g id="c-CYP2J2"><circle cx="266" cy="476" r="8" class="b0"/><text x="266" y="476">CYP2J2</text></g>
<g id="c-IL36G"><circle cx="310" cy="476" r="8" class="p0"/><text x="310" y="476">IL36G</text></g>
<g id="c-SERPINB3"><circle cx="266" cy="508" r="12" class="p3"/><text x="266" y="508">SERPINB3</text></g>
<g id="c-LYZ"><circle cx="310" cy="508" r="10" class="p0"/><text x="310" y="508">LYZ</text></g>
<g id="c-FUT2"><circle cx="266" cy="540" r="8" class="p0"/><text x="266" y="540">FUT2</text></g>
<g id="c-BIRC3"><circle cx="310" cy="540" r="9" class="p0"/><text x="310" y="540">BIRC3</text></g>
<g id="c-CCR7"><circle cx="365" cy="318" r="17" class="p0"/><text x="365" y="318">CCR7</text></g>
<g id="c-IL6R"><rect x="398" y="308" width="20" height="20" class="b1"/><text x="408" y="318">IL6R</text></g>
<g id="c-BTC"><circle cx="450" cy="318" r="8" class="b0"/><text x="450" y="318">BTC</text></g>
<g id="c-SOCS3"><circle cx="493" cy="318" r="10" class="p1"/><text x="493" y="318">SOCS3</text></g>
<g id="c-F3"><circle cx="536" cy="318" r="10" class="b0"/><text x="536" y="318">F3</text></g>
<g id="c-RORC"><circle cx="579" cy="318" r="9" class="b0"/><text x="579" y="318">RORC</text></g>
<g id="c-GPR183"><circle cx="622" cy="318" r="12" class="p0"/><text x="622" y="318">GPR183</text></g>
<g id="c-SERPINB7"><circle cx="664" cy="318" r="8" class="b0"/><text x="664" y="318">SERPINB7</text></g>
<g id="c-IRF8"><circle cx="365" cy="352" r="12" class="p0"/><text x="365" y="352">IRF8</text></g>
<g id="c-CCL22"><circle cx="408" cy="352" r="11" class="p1"/><text x="408" y="352">CCL22</text></g>
<g id="c-LGALS3BP"><circle cx="450" cy="352" r="8" class="p0"/><text x="450" y="352">LGALS3BP</text></g>
<g id="c-RGS1"><circle cx="493" cy="352" r="9" class="p0"/><text x="493" y="352">RGS1</text></g>
<g id="c-IL4R"><circle cx="536" cy="352" r="10" class="p0"/><text x="536" y="352">IL4R</text></g>
<g id="c-ITGAL"><circle cx="579" cy="352" r="12" class="p0"/><text x="579" y="352">ITGAL</text></g>
<g id="c-AQP9"><circle cx="622" cy="352" r="10" class="b0"/><text x="622" y="352">AQP9</text></g>
<g id="c-LRG1"><circle cx="664" cy="352" r="9" class="p0"/><text x="664" y="352">LRG1</text></g>
<g id="c-IL10RA"><circle cx="365" cy="385" r="14" class="p0"/><text x="365" y="385">IL10RA</text></g>
<g id="c-CHRM4"><circle cx="408" cy="385" r="10" class="b0"/><text x="408" y="385">CHRM4</text></g>
<g id="c-ZBTB46"><rect x="443" y="378" width="15" height="15" class="p4"/><text x="450" y="385">ZBTB46</text></g>
<g id="c-CXCR4"><circle cx="493" cy="384" r="16" class="p0"/><text x="493" y="384">CXCR4</text></g>
<g id="c-CD274"><circle cx="536" cy="384" r="12" class="p0"/><text x="536" y="384">CD274</text></g>
<g id="c-SCIN"><circle cx="579" cy="384" r="8" class="b0"/><text x="579" y="384">SCIN</text></g>
<g id="c-CCL2"><circle cx="622" cy="384" r="17" class="p0"/><text x="622" y="384">CCL2</text></g>
<g id="c-MMP9"><circle cx="664" cy="384" r="19" class="p0"/><text x="664" y="384">MMP9</text></g>
<g id="c-CLEC16A"><rect x="357" y="410" width="16" height="16" class="p3"/><text x="365" y="418">CLEC16A</text></g>
<g id="c-S100A9"><circle cx="408" cy="418" r="10" class="p4"/><text x="408" y="418">S100A9</text></g>
<g id="c-CCL19"><circle cx="450" cy="418" r="16" class="p0"/><text x="450" y="418">CCL19</text></g>
<g id="c-ZBTB16"><circle cx="493" cy="418" r="9" class="b0"/><text x="493" y="418">ZBTB16</text></g>
<g id="c-CSF2RB"><circle cx="536" cy="418" r="11" class="p0"/><text x="536" y="418">CSF2RB</text></g>
<g id="c-C1QB"><circle cx="579" cy="418" r="11" class="p0"/><text x="579" y="418">C1QB</text></g>
<g id="c-ANGPTL4"><circle cx="622" cy="418" r="8" class="p1"/><text x="622" y="418">ANGPTL4</text></g>
<g id="c-CD53"><circle cx="664" cy="418" r="11" class="p0"/><text x="664" y="418">CD53</text></g>
<g id="c-THY1"><circle cx="365" cy="451" r="12" class="p0"/><text x="365" y="451">THY1</text></g>
<g id="c-SERPINE1"><circle cx="408" cy="451" r="10" class="p0"/><text x="408" y="451">SERPINE1</text></g>
<g id="c-C1QC"><circle cx="451" cy="451" r="10" class="p0"/><text x="451" y="451">C1QC</text></g>
<g id="c-CCR4"><circle cx="493" cy="451" r="10" class="p0"/><text x="493" y="451">CCR4</text></g>
<g id="c-CLEC10A"><circle cx="536" cy="451" r="10" class="p0"/><text x="536" y="451">CLEC10A</text></g>
<g id="c-NOD2"><circle cx="579" cy="451" r="10" class="p0"/><text x="579" y="451">NOD2</text></g>
<g id="c-CCL13"><circle cx="622" cy="451" r="10" class="p1"/><text x="622" y="451">CCL13</text></g>
<g id="c-ITGAX"><circle cx="664" cy="451" r="16" class="p0"/><text x="664" y="451">ITGAX</text></g>
<g id="c-SELP"><circle cx="365" cy="483" r="11" class="p0"/><text x="365" y="483">SELP</text></g>
<g id="c-IL34"><circle cx="408" cy="483" r="8" class="b0"/><text x="408" y="483">IL34</text></g>
<g id="c-PLEK"><circle cx="451" cy="483" r="13" class="p0"/><text x="451" y="483">PLEK</text></g>
<g id="c-CD3G"><circle cx="493" cy="483" r="10" class="p0"/><text x="493" y="483">CD3G</text></g>
<g id="c-CLEC7A"><circle cx="536" cy="483" r="10" class="p0"/><text x="536" y="483">CLEC7A</text></g>
<g id="c-ITK"><circle cx="579" cy="483" r="8" class="p0"/><text x="579" y="483">ITK</text></g>
<g id="c-CCL18"><circle cx="622" cy="483" r="11" class="p2"/><text x="622" y="483">CCL18</text></g>
<g id="c-IL37"><circle cx="664" cy="483" r="8" class="b0"/><text x="664" y="483">IL37</text></g>
<g id="c-SYT8"><circle cx="365" cy="517" r="9" class="b0"/><text x="365" y="517">SYT8</text></g>
<g id="c-WNT5A"><circle cx="408" cy="517" r="9" class="p0"/><text x="408" y="517">WNT5A</text></g>
<g id="c-CCR1"><circle cx="451" cy="517" r="16" class="p0"/><text x="451" y="517">CCR1</text></g>
<g id="c-VCAM1"><circle cx="493" cy="517" r="16" class="p0"/><text x="493" y="517">VCAM1</text></g>
<g id="c-IGSF6"><circle cx="536" cy="517" r="9" class="p0"/><text x="536" y="517">IGSF6</text></g>
<g id="c-CA2"><circle cx="579" cy="517" r="7" class="p1"/><text x="579" y="517">CA2</text></g>
<g id="c-FPR3"><circle cx="622" cy="517" r="10" class="p0"/><text x="622" y="517">FPR3</text></g>
<g id="c-CNKSR2"><circle cx="664" cy="517" r="8" class="b0"/><text x="664" y="517">CNKSR2</text></g>
<g id="c-SRGN"><circle cx="365" cy="549" r="9" class="p0"/><text x="365" y="549">SRGN</text></g>
<g id="c-TNC"><circle cx="408" cy="549" r="8" class="p1"/><text x="408" y="549">TNC</text></g>
<g id="c-IL2RG"><circle cx="451" cy="549" r="11" class="p0"/><text x="451" y="549">IL2RG</text></g>
<g id="c-GAL"><circle cx="493" cy="549" r="10" class="b0"/><text x="493" y="549">GAL</text></g>
<g id="c-IL1RL1"><rect x="528" y="541" width="16" height="16" class="b1"/><text x="536" y="549">IL1RL1</text></g>
<g id="c-CD2"><circle cx="579" cy="549" r="12" class="p0"/><text x="579" y="549">CD2</text></g>
<g id="c-PLAU"><circle cx="622" cy="549" r="9" class="p0"/><text x="622" y="549">PLAU</text></g>
<g id="c-SLAMF8"><circle cx="664" cy="549" r="9" class="p0"/><text x="664" y="549">SLAMF8</text></g>
<g id="c-COL4A1"><circle cx="365" cy="583" r="8" class="p0"/><text x="365" y="583">COL4A1</text></g>
<g id="c-LTF"><circle cx="408" cy="583" r="11" class="p4"/><text x="408" y="583">LTF</text></g>
<g id="c-SELE"><circle cx="451" cy="583" r="12" class="p1"/><text x="451" y="583">SELE</text></g>
<g id="c-CD226"><circle cx="493" cy="583" r="9" class="p0"/><text x="493" y="583">CD226</text></g>
<g id="c-S100A8"><circle cx="536" cy="583" r="11" class="p4"/><text x="536" y="583">S100A8</text></g>
<g id="c-SELL"><circle cx="579" cy="583" r="17" class="p0"/><text x="579" y="583">SELL</text></g>
<g id="c-IL7R"><circle cx="622" cy="583" r="15" class="p1"/><text x="622" y="583">IL7R</text></g>
</g>
<g id="legend" class="lg">
<text x="79" y="618">Degree</text>
<circle cx="42" cy="650" r="11" fill="#fff" stroke="#000" stroke-width="1.3"/>
<line x1="53" y1="650" x2="98" y2="650" stroke="#000" stroke-width="1.3" marker-end="url(#ah)"/>
<circle cx="121" cy="650" r="22" fill="#fff" stroke="#000" stroke-width="1.3"/>
<text x="41" y="686">1</text>
<text x="121" y="686">42</text>
<text x="290" y="618">Weight</text>
<rect x="218" y="634" width="150" height="19" fill="url(#wg)" stroke="#000" stroke-width="1.5"/>
<text x="215" y="670">-6.94</text>
<text x="292" y="670">0.0</text>
<text x="364" y="670">6.94</text>
<text x="539" y="618">Shape</text>
<rect x="438" y="633" width="26" height="25" fill="#000"/>
<ellipse cx="513" cy="648" rx="13.5" ry="14" fill="#000"/>
<use href="#ast" x="572" y="642" class="ast"/>
<polygon points="609,660 624,634 639,660" fill="#000"/>
<text x="452" y="679">TWAS</text>
<text x="512" y="680">Meta-</text>
<text x="512" y="694">analysis</text>
<text x="572" y="679">Both</text>
<text x="572" y="694">analyses</text>
<text x="618" y="679">STRING</text>
</g>
</svg>
